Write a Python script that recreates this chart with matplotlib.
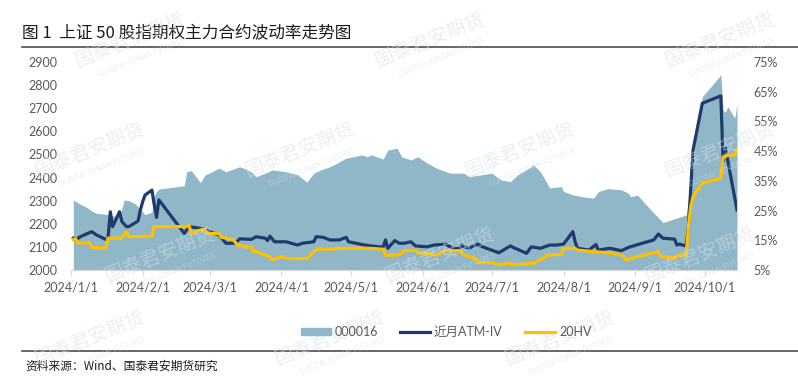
import matplotlib
matplotlib.use('Agg')
import matplotlib.pyplot as plt
import matplotlib.dates as mdates
from matplotlib.lines import Line2D
from matplotlib.patches import Patch
import pandas as pd

plt.rcParams['font.family'] = ['Lato', 'Noto Sans CJK SC', 'DejaVu Sans']

# 000016 index (left axis)
idx_dates = ['01-02', '01-03', '01-05', '01-08', '01-10', '01-12', '01-17', '01-19', '01-22', '01-24',
             '01-26', '01-29', '01-31', '02-02', '02-05', '02-06', '02-07', '02-08', '02-19', '02-20',
             '02-22', '02-26', '02-28', '03-01', '03-05', '03-08', '03-14', '03-19', '03-21', '03-25',
             '03-28', '04-03', '04-08', '04-12', '04-15', '04-18', '04-22', '04-25', '04-29', '05-06',
             '05-08', '05-10', '05-15', '05-17', '05-21', '05-23', '05-27', '05-30', '06-03', '06-07',
             '06-13', '06-19', '06-21', '06-26', '07-01', '07-05', '07-09', '07-12', '07-18', '07-19',
             '07-22', '07-26', '07-31', '08-01', '08-05', '08-09', '08-14', '08-16', '08-20', '08-26',
             '08-29', '08-30', '09-02', '09-05', '09-09', '09-13', '09-19', '09-23', '09-24', '09-26',
             '09-27', '09-30', '10-08', '10-09', '10-10', '10-11', '10-14', '10-15']
idx_vals = [2303, 2296, 2285, 2270, 2255, 2245, 2240, 2235, 2230, 2303,
            2300, 2285, 2262, 2240, 2250, 2320, 2340, 2350, 2365, 2425,
            2430, 2378, 2412, 2420, 2441, 2425, 2447, 2425, 2404, 2419,
            2433, 2425, 2412, 2380, 2419, 2433, 2447, 2462, 2484, 2498,
            2490, 2498, 2480, 2519, 2527, 2490, 2476, 2490, 2463, 2441,
            2419, 2419, 2404, 2411, 2419, 2390, 2382, 2411, 2447, 2455,
            2425, 2355, 2361, 2340, 2325, 2317, 2311, 2339, 2352, 2347,
            2332, 2317, 2324, 2290, 2247, 2205, 2225, 2238, 2303, 2433,
            2593, 2750, 2844, 2692, 2682, 2707, 2657, 2714]

# near-month ATM implied vol, % (right axis)
iv_dates = ['01-02', '01-03', '01-05', '01-10', '01-12', '01-16', '01-17', '01-18', '01-19', '01-22',
            '01-23', '01-25', '01-26', '01-29', '01-30', '01-31', '02-01', '02-02', '02-05', '02-06',
            '02-07', '02-08', '02-19', '02-21', '02-26', '02-28', '03-01', '03-05', '03-08', '03-12',
            '03-14', '03-19', '03-21', '03-25', '03-26', '03-27', '03-29', '04-03', '04-08', '04-10',
            '04-15', '04-16', '04-19', '04-22', '04-26', '04-29', '04-30', '05-07', '05-13', '05-15',
            '05-16', '05-17', '05-20', '05-22', '05-24', '05-27', '05-29', '06-03', '06-06', '06-11',
            '06-14', '06-17', '06-18', '06-19', '06-21', '06-25', '06-27', '07-04', '07-09', '07-11',
            '07-12', '07-16', '07-18', '07-22', '07-26', '07-29', '08-01', '08-05', '08-06', '08-07',
            '08-12', '08-15', '08-16', '08-21', '08-26', '08-29', '09-04', '09-09', '09-11', '09-13',
            '09-18', '09-19', '09-20', '09-23', '09-24', '09-26', '09-30', '10-08', '10-09', '10-10',
            '10-15']
iv_vals = [15.7, 15.1, 16.2, 17.9, 16.8, 15.3, 15.5, 24.6, 19.6, 24.6,
           21.3, 19.6, 19.6, 21.0, 21.5, 25.2, 28.0, 30.2, 31.9, 26.9,
           22.7, 28.6, 17.3, 19.6, 19.0, 18.5, 17.9, 16.8, 14.0, 14.0,
           15.5, 15.3, 16.2, 15.7, 14.9, 16.4, 14.5, 14.5, 13.4, 14.0,
           14.5, 16.2, 16.0, 15.1, 15.1, 16.0, 14.5, 13.4, 12.8, 12.8,
           15.1, 12.3, 14.9, 14.0, 14.0, 14.5, 13.1, 12.8, 13.4, 13.7,
           12.3, 12.1, 13.4, 12.8, 12.3, 13.7, 12.8, 10.8, 13.1, 12.3,
           12.0, 10.6, 12.8, 12.3, 13.4, 13.4, 13.7, 17.9, 14.5, 12.3,
           11.7, 13.6, 11.7, 12.3, 11.5, 12.6, 14.0, 15.1, 17.1, 15.7,
           15.4, 13.4, 13.7, 13.1, 19.6, 45.4, 61.1, 63.6, 41.5, 46.0,
           25.2]

# 20-day historical vol, % (right axis)
hv_dates = ['01-02', '01-03', '01-04', '01-09', '01-10', '01-16', '01-17', '01-23', '01-25', '01-26',
            '02-05', '02-06', '02-08', '02-19', '02-20', '02-21', '02-22', '02-26', '02-28', '02-29',
            '03-05', '03-06', '03-11', '03-13', '03-18', '03-19', '03-20', '03-21', '03-25', '03-27',
            '03-28', '04-01', '04-03', '04-12', '04-15', '04-17', '04-22', '04-26', '05-09', '05-15',
            '05-16', '05-21', '05-23', '05-24', '05-29', '05-30', '06-03', '06-07', '06-11', '06-17',
            '06-19', '06-24', '06-25', '07-01', '07-04', '07-09', '07-10', '07-19', '07-23', '07-25',
            '07-31', '08-01', '08-06', '08-07', '08-14', '08-20', '08-26', '08-27', '08-28', '09-02',
            '09-11', '09-12', '09-18', '09-20', '09-23', '09-24', '09-25', '09-26', '09-30', '10-08',
            '10-09', '10-10', '10-11', '10-14', '10-15']
hv_vals = [15.3, 15.5, 14.0, 14.2, 12.6, 12.3, 15.7, 15.7, 17.9, 16.2,
           16.4, 19.6, 19.6, 19.6, 19.6, 20.1, 17.3, 18.5, 18.6, 17.3,
           17.3, 16.0, 15.3, 13.4, 12.6, 12.8, 11.2, 11.3, 10.0, 9.5,
           8.4, 9.5, 8.9, 8.8, 11.2, 12.1, 12.0, 12.3, 12.3, 12.0,
           10.0, 10.0, 10.6, 11.5, 11.7, 10.8, 10.6, 10.0, 11.5, 11.5,
           10.0, 8.9, 7.5, 7.5, 6.7, 7.3, 6.7, 7.3, 8.9, 10.0,
           10.3, 12.3, 12.3, 11.7, 11.2, 10.8, 10.0, 9.5, 8.4, 9.5,
           11.2, 9.5, 9.2, 10.0, 10.0, 19.6, 26.3, 29.7, 34.2, 35.9,
           43.1, 43.1, 43.7, 43.7, 45.4]

labels = ['000016', '近月ATM-IV', '20HV']


def to_dt(days):
    return pd.to_datetime(['2024-' + d for d in days])


W, H = 798, 385
fig = plt.figure(figsize=(W / 100, H / 100), dpi=100)
ax = fig.add_axes([71 / W, 115 / H, 666 / W, 208 / H])

fill_c = '#8fb7c7'
iv_c = '#1f3a6d'
hv_c = '#ffc000'
tick_c = '#595959'

ax.fill_between(to_dt(idx_dates), 2000, idx_vals, color=fill_c, lw=0, zorder=1)
ax.set_ylim(2000, 2900)
ax.set_yticks(range(2000, 2901, 100))
ax.set_xlim(pd.Timestamp('2024-01-01'), pd.Timestamp('2024-10-15'))
ax.xaxis.set_major_locator(mdates.MonthLocator())
ax.xaxis.set_major_formatter(plt.FuncFormatter(
    lambda v, p: '{0.year}/{0.month}/{0.day}'.format(mdates.num2date(v))))

ax2 = ax.twinx()
ax2.plot(to_dt(iv_dates), iv_vals, color=iv_c, lw=2.3, solid_joinstyle='round')
ax2.plot(to_dt(hv_dates), hv_vals, color=hv_c, lw=2.3, solid_joinstyle='round')
ax2.set_ylim(5, 75)
ax2.set_yticks(range(5, 76, 10))
ax2.yaxis.set_major_formatter(plt.FuncFormatter(lambda v, p: f'{v:.0f}%'))

for a in (ax, ax2):
    for s in ('top', 'left', 'right'):
        a.spines[s].set_visible(False)
    a.spines['bottom'].set_color('#d9d9d9')
    a.tick_params(axis='y', length=0, labelsize=9, labelcolor=tick_c)
ax.tick_params(axis='y', pad=10)
ax2.tick_params(axis='y', pad=12)
ax.tick_params(axis='x', length=4, color='#d9d9d9', labelsize=9, labelcolor=tick_c, pad=4)

# faint watermark tiles, kept inside the canvas
wm_rows = [(40, [130, 430, 720]), (150, [90, 300, 520, 720]), (255, [160, 440, 700]), (338, [90, 330, 560])]
for yy, xs in wm_rows:
    for xx in xs:
        fig.text(xx / W, 1 - yy / H, '国泰君安期货', fontsize=14, color='#d6e0ea', alpha=0.5,
                 rotation=22, ha='center', va='center', family='Noto Sans CJK SC', zorder=5)
        fig.text((xx + 12) / W, 1 - (yy + 17) / H, 'GUOTAI JUNAN FUTURES', fontsize=5.5,
                 color='#d6e0ea', alpha=0.5, rotation=22, ha='center', va='center', zorder=5)

fig.text(22 / W, 1 - 33 / H, '图 1  上证 50 股指期权主力合约波动率走势图', fontsize=12,
         va='center', family='Noto Sans CJK SC', color='#1a1a1a')
fig.add_artist(Line2D([22 / W, 1], [1 - 47 / H] * 2, color='#4d4d4d', lw=1.2))
fig.add_artist(Line2D([22 / W, 1], [1 - 351 / H] * 2, color='#4d4d4d', lw=1.2))
fig.text(25 / W, 1 - 366 / H, '资料来源：Wind、国泰君安期货研究', fontsize=8.5,
         va='center', family='Noto Sans CJK SC', color='#1a1a1a')

handles = [Patch(color=fill_c), Line2D([], [], color=iv_c, lw=2.3), Line2D([], [], color=hv_c, lw=2.3)]
leg = fig.legend(handles, labels, loc='center', bbox_to_anchor=(446 / W, 1 - 332 / H), ncol=3,
                 frameon=False, fontsize=9, handlelength=2.4, handleheight=0.5,
                 columnspacing=1.8, handletextpad=0.3)
for t in leg.get_texts():
    t.set_color(tick_c)

fig.savefig('out.png', dpi=100)
